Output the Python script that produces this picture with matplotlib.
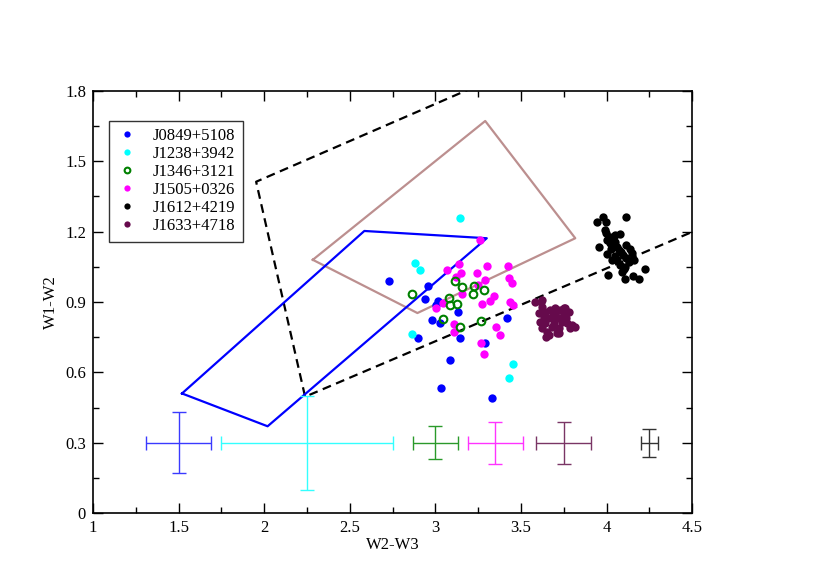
import numpy as np
import matplotlib
matplotlib.use("Agg")
import matplotlib.pyplot as plt
from matplotlib.ticker import MultipleLocator

plt.rcParams['font.family'] = ['Liberation Serif', 'DejaVu Serif']

# --- source points (W2-W3, W1-W2) ---
j0849_x = [2.730, 2.954, 2.937, 3.015, 3.003, 3.133, 2.983, 3.028, 3.141, 3.421, 3.291, 2.901, 3.083, 3.034, 3.332]
j0849_y = [0.990, 0.970, 0.912, 0.904, 0.887, 0.859, 0.823, 0.811, 0.747, 0.832, 0.727, 0.748, 0.654, 0.535, 0.489]

j1238_x = [3.141, 2.882, 2.913, 2.863, 3.456, 3.431]
j1238_y = [1.257, 1.068, 1.037, 0.764, 0.634, 0.576]

j1346_x = [3.112, 3.157, 3.223, 3.285, 3.217, 2.866, 3.081, 3.088, 3.126, 3.044, 3.141, 3.268]
j1346_y = [0.990, 0.964, 0.970, 0.951, 0.933, 0.933, 0.919, 0.887, 0.892, 0.829, 0.792, 0.818]

j1505_x = [3.262, 3.137, 3.069, 3.147, 3.118, 3.304, 3.425, 3.242, 3.427, 3.447, 3.287, 3.246,
           3.155, 3.344, 3.318, 3.275, 3.433, 3.451, 3.044, 3.003, 3.110, 3.106, 3.355, 3.379,
           3.266, 3.285]
j1505_y = [1.165, 1.062, 1.035, 1.024, 1.005, 1.054, 1.054, 1.025, 1.004, 0.983, 0.993, 0.973,
           0.936, 0.926, 0.903, 0.890, 0.901, 0.889, 0.896, 0.873, 0.808, 0.771, 0.795, 0.761,
           0.725, 0.677]

j1612_x = [3.978, 3.944, 3.996, 4.111, 3.994, 4.018, 4.047, 4.076, 3.953, 4.037, 4.061, 4.115,
           4.002, 4.086, 4.148, 4.031, 4.061, 4.115, 4.158, 4.080, 4.109, 4.226, 4.008, 4.090,
           4.109, 4.154, 4.189, 4.051, 3.990, 4.005, 4.025, 4.050, 4.070, 4.095, 4.130, 4.102,
           4.135, 4.040, 4.020]
j1612_y = [1.264, 1.240, 1.243, 1.261, 1.193, 1.179, 1.186, 1.189, 1.136, 1.150, 1.136, 1.143,
           1.105, 1.115, 1.108, 1.079, 1.079, 1.087, 1.079, 1.058, 1.051, 1.040, 1.015, 1.029,
           0.997, 1.011, 0.997, 1.157, 1.205, 1.165, 1.125, 1.095, 1.120, 1.100, 1.070, 1.040,
           1.125, 1.170, 1.150]

j1633_x = [3.583, 3.617, 3.622, 3.603, 3.612, 3.642, 3.671, 3.700, 3.729, 3.759, 3.778, 3.681,
           3.720, 3.739, 3.768, 3.798, 3.817, 3.788, 3.720, 3.710, 3.661, 3.642, 3.622, 3.690,
           3.749, 3.651, 3.622, 3.648, 3.749, 3.720, 3.660, 3.700, 3.635, 3.680, 3.760]
j1633_y = [0.899, 0.899, 0.880, 0.852, 0.816, 0.859, 0.866, 0.873, 0.866, 0.873, 0.859, 0.838,
           0.831, 0.816, 0.809, 0.802, 0.795, 0.788, 0.788, 0.769, 0.759, 0.809, 0.788, 0.809,
           0.845, 0.774, 0.909, 0.750, 0.873, 0.767, 0.830, 0.850, 0.835, 0.795, 0.830]

# --- typical error bars ---
err_x = [1.50, 2.25, 3.00, 3.35, 3.75, 4.25]
err_y = [0.30, 0.30, 0.30, 0.30, 0.30, 0.30]
err_dx = [0.19, 0.50, 0.13, 0.16, 0.16, 0.05]
err_dy = [0.13, 0.20, 0.07, 0.09, 0.09, 0.06]
err_colors = ['#3a3aff', '#33ffff', '#2a9a2a', '#ff33ff', '#7a3565', '#333333']

# --- regions ---
blazar_x = [1.520, 2.585, 3.300, 2.020, 1.520]
blazar_y = [0.510, 1.203, 1.172, 0.370, 0.510]
brown_x = [2.284, 3.291, 3.817, 2.895, 2.284]
brown_y = [1.080, 1.672, 1.172, 0.853, 1.080]
wedge_x = [3.300, 1.953, 2.239, 4.500]
wedge_y = [1.840, 1.413, 0.496, 1.199]

names = ['J0849+5108', 'J1238+3942', 'J1346+3121', 'J1505+0326', 'J1612+4219', 'J1633+4718']

fig = plt.figure(figsize=(8.3, 5.87), dpi=100)
ax = fig.add_axes([0.112, 0.126, 0.722, 0.719])

ax.plot(wedge_x, wedge_y, color='black', lw=1.6, ls=(0, (4, 2.5)), zorder=2)
ax.plot(brown_x, brown_y, color='#bc8f8f', lw=1.6, zorder=2)
ax.plot(blazar_x, blazar_y, color='#0000ff', lw=1.6, zorder=2)

for x, y, dx, dy, c in zip(err_x, err_y, err_dx, err_dy, err_colors):
    ax.errorbar(x, y, xerr=dx, yerr=dy, color=c, lw=1.0, capsize=5, capthick=1.0, zorder=2)

ms = 6
ax.plot(j0849_x, j0849_y, 'o', color='#0000ff', ms=ms, mec='none', label=names[0], zorder=3)
ax.plot(j1238_x, j1238_y, 'o', color='#00ffff', ms=ms, mec='none', label=names[1], zorder=3)
ax.plot(j1346_x, j1346_y, 'o', mfc='none', mec='#008000', mew=1.5, ms=5.5, label=names[2], zorder=4)
ax.plot(j1505_x, j1505_y, 'o', color='#ff00ff', ms=ms, mec='none', label=names[3], zorder=3)
ax.plot(j1612_x, j1612_y, 'o', color='black', ms=ms, mec='none', label=names[4], zorder=3)
ax.plot(j1633_x, j1633_y, 'o', color='#660a4c', ms=ms, mec='none', label=names[5], zorder=3)

ax.set_xlim(1, 4.5)
ax.set_ylim(0, 1.8)
ax.xaxis.set_major_locator(MultipleLocator(0.5))
ax.xaxis.set_minor_locator(MultipleLocator(0.25))
ax.yaxis.set_major_locator(MultipleLocator(0.3))
ax.yaxis.set_minor_locator(MultipleLocator(0.15))
ax.xaxis.set_major_formatter(plt.FuncFormatter(lambda v, p: f"{v:g}"))
ax.yaxis.set_major_formatter(plt.FuncFormatter(lambda v, p: f"{v:g}"))
ax.tick_params(which='both', direction='in', top=True, right=True, labelsize=12, width=1)
ax.tick_params(which='major', length=7, pad=5)
ax.tick_params(which='minor', length=4)
for s in ax.spines.values():
    s.set_linewidth(1.2)

ax.set_xlabel('W2-W3', fontsize=12, labelpad=1)
ax.set_ylabel('W1-W2', fontsize=12, labelpad=4)

leg = ax.legend(loc='upper left', bbox_to_anchor=(0.026, 0.93), fontsize=12, markerscale=0.75,
                frameon=True, fancybox=False, edgecolor='black', borderpad=0.45,
                labelspacing=0.12, handlelength=1.3, handletextpad=0.9, borderaxespad=0)
leg.get_frame().set_linewidth(1.0)

plt.savefig('out.png', dpi=100)
plt.close()
